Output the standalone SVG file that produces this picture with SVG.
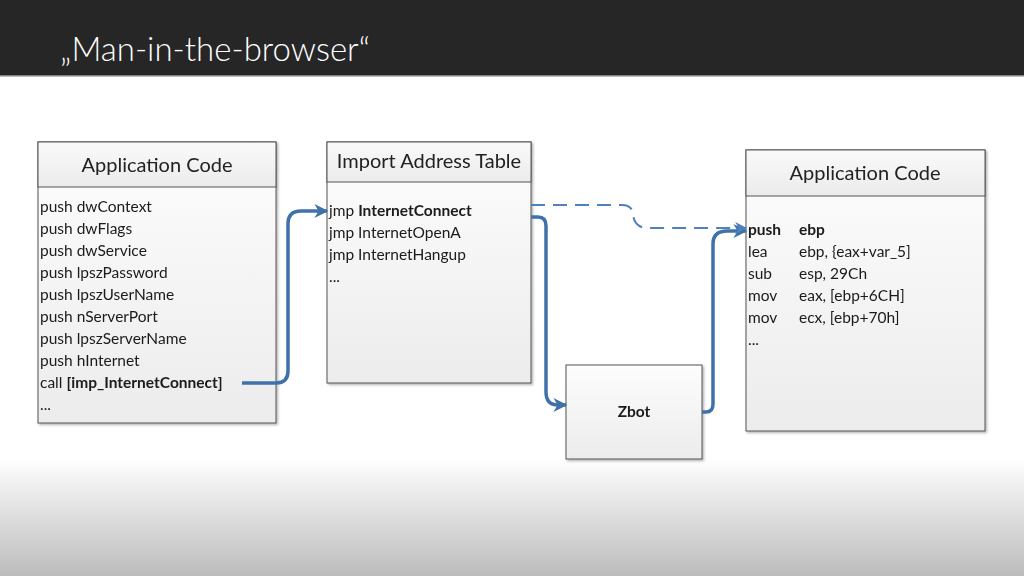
<svg xmlns="http://www.w3.org/2000/svg" width="1024" height="576" viewBox="0 0 1024 576">
<style>
.t{font-family:Lato,"Open Sans","Liberation Sans",sans-serif;fill:#1a1a1a;font-size:15.5px}
.h{font-family:Lato,"Open Sans","Liberation Sans",sans-serif;fill:#222;font-size:20px}
.b{font-weight:bold}
.box{fill:url(#bg);stroke:#555;stroke-width:1}
.hd{fill:url(#hg);stroke:#555;stroke-width:1}
.c{fill:none;stroke:#3f72aa;stroke-width:3.5;stroke-linejoin:round}
.d{fill:none;stroke:#4f81bd;stroke-width:2;stroke-dasharray:14 8}
</style>
<defs>
<linearGradient id="bot" gradientUnits="userSpaceOnUse" x1="0" y1="458" x2="0" y2="576">
<stop offset="0" stop-color="#ffffff"/><stop offset="1" stop-color="#bcbcbc"/>
</linearGradient>
<linearGradient id="bg" x1="0" y1="0" x2="0" y2="1">
<stop offset="0" stop-color="#fdfdfd"/><stop offset="1" stop-color="#ececec"/>
</linearGradient>
<linearGradient id="hg" x1="0" y1="0" x2="0" y2="1">
<stop offset="0" stop-color="#fafafa"/><stop offset="1" stop-color="#ebebeb"/>
</linearGradient>
<filter id="sh" x="-5%" y="-5%" width="115%" height="115%">
<feDropShadow dx="1.5" dy="1.5" stdDeviation="1" flood-color="#000" flood-opacity="0.3"/>
</filter>
<marker id="ah" viewBox="0 0 10 10" refX="9" refY="5" markerWidth="4" markerHeight="4" markerUnits="strokeWidth" orient="auto">
<path d="M0,0 L10,5 L0,10 L3,5 Z" fill="#3f72aa"/>
</marker>
<marker id="ahd" viewBox="0 0 10 10" refX="9" refY="5" markerWidth="6" markerHeight="6" markerUnits="strokeWidth" orient="auto">
<path d="M0,0 L10,5 L0,10 L3,5 Z" fill="#4f81bd"/>
</marker>
</defs>

<rect x="0" y="0" width="1024" height="576" fill="url(#bot)"/>
<rect x="0" y="0" width="1024" height="75" fill="#262626"/>
<rect x="0" y="75" width="1024" height="1.5" fill="#7f7f7f"/>
<text x="60" y="61" font-family="Lato,'Open Sans','Liberation Sans',sans-serif" font-weight="300" font-size="34" fill="#fff" textLength="310" lengthAdjust="spacingAndGlyphs">„Man-in-the-browser“</text>

<g id="app1" filter="url(#sh)">
<rect class="box" x="38" y="142" width="238" height="281"/>
<rect class="hd" x="38" y="142" width="238" height="45"/>
<text class="h" x="157" y="172" text-anchor="middle">Application Code</text>
<text class="t" x="40" y="212">push dwContext</text>
<text class="t" x="40" y="234">push dwFlags</text>
<text class="t" x="40" y="256">push dwService</text>
<text class="t" x="40" y="278">push lpszPassword</text>
<text class="t" x="40" y="300">push lpszUserName</text>
<text class="t" x="40" y="322">push nServerPort</text>
<text class="t" x="40" y="344">push lpszServerName</text>
<text class="t" x="40" y="366">push hInternet</text>
<text class="t" x="40" y="388">call <tspan class="b">[imp_InternetConnect]</tspan></text>
<text class="t" x="40" y="410">...</text>
</g>

<g id="iat" filter="url(#sh)">
<rect class="box" x="327" y="142" width="204" height="241"/>
<rect class="hd" x="327" y="142" width="204" height="40"/>
<text class="h" x="429" y="168" text-anchor="middle">Import Address Table</text>
<text class="t" x="329" y="216">jmp <tspan class="b">InternetConnect</tspan></text>
<text class="t" x="329" y="238">jmp InternetOpenA</text>
<text class="t" x="329" y="260">jmp InternetHangup</text>
<text class="t" x="329" y="282">...</text>
</g>

<g id="zbot" filter="url(#sh)">
<rect class="box" x="566" y="365" width="136" height="94"/>
<text class="t b" x="634" y="417" text-anchor="middle">Zbot</text>
</g>

<g id="app2" filter="url(#sh)">
<rect class="box" x="746" y="150" width="239" height="281"/>
<rect class="hd" x="746" y="150" width="239" height="46"/>
<text class="h" x="865" y="180" text-anchor="middle">Application Code</text>
<text class="t b" x="748" y="235">push</text><text class="t b" x="799" y="235">ebp</text>
<text class="t" x="748" y="257">lea</text><text class="t" x="799" y="257">ebp, {eax+var_5]</text>
<text class="t" x="748" y="279">sub</text><text class="t" x="799" y="279">esp, 29Ch</text>
<text class="t" x="748" y="301">mov</text><text class="t" x="799" y="301">eax, [ebp+6CH]</text>
<text class="t" x="748" y="323">mov</text><text class="t" x="799" y="323">ecx, [ebp+70h]</text>
<text class="t" x="748" y="345">...</text>
</g>

<g id="connectors">
<path class="c" marker-end="url(#ah)" d="M242,383 H276 Q288,383 288,371 V224 Q288,211 301,211 H327"/>
<path class="c" marker-end="url(#ah)" d="M531,217 H538 Q546,217 546,226 V392 Q546,405 558,405 H566"/>
<path class="c" marker-end="url(#ah)" d="M702,412 H706 Q713,412 713,404 V244 Q713,231 727,231 H746"/>
<path class="d" marker-end="url(#ahd)" d="M531,205 H622 Q632,205 633,214 Q634,228 648,228 H746"/>
</g>
</svg>
